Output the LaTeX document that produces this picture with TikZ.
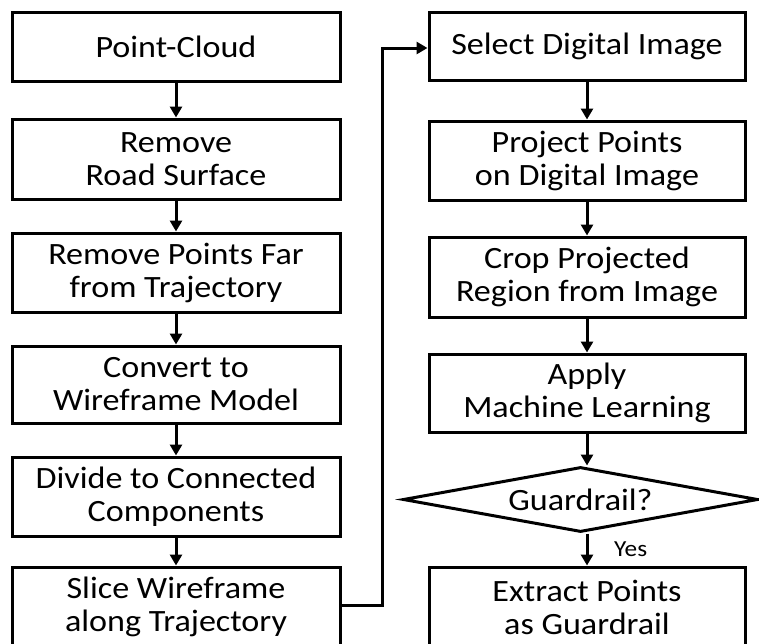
\documentclass[tikz,border=0pt]{standalone}
\usepackage{fontspec}
\setmainfont{Carlito}[FakeStretch=1.1]
\usetikzlibrary{arrows.meta,shapes.geometric}
\begin{document}
\begin{tikzpicture}[x=1pt,y=-1pt,
  stepbox/.style={draw=black,line width=3pt,rectangle,inner sep=0pt,align=center,
     font=\fontsize{31}{33}\selectfont},
  lbox/.style={stepbox,minimum width=328pt},
  rbox/.style={stepbox,minimum width=316pt},
  decide/.style={draw=black,line width=3pt,diamond,inner sep=0pt,aspect=5.4,
     minimum width=355pt,minimum height=65pt,font=\fontsize{31}{33}\selectfont},
  flow/.style={line width=3pt,-{Triangle[length=11pt,width=12pt]}}]
\useasboundingbox[fill=white] (0,0) rectangle (759,643);
% left column
\node[lbox,minimum height=69pt] (pc) at (176,46.5) {Point-Cloud};
\node[lbox,minimum height=80pt] (rr) at (176,159) {Remove\\Road Surface};
\node[lbox,minimum height=79pt] (rp) at (176,272.5) {Remove Points Far\\from Trajectory};
\node[lbox,minimum height=77pt] (cw) at (176,384.5) {Convert to\\Wireframe Model};
\node[lbox,minimum height=79pt] (dc) at (176,496.5) {Divide to Connected\\Components};
\node[lbox,minimum height=80pt] (sw) at (176,607) {Slice Wireframe\\along Trajectory};
% right column
\node[rbox,minimum height=68pt] (sd) at (587,46) {Select Digital Image};
\node[rbox,minimum height=79pt] (pp) at (587,160.5) {Project Points\\on Digital Image};
\node[rbox,minimum height=80pt] (cp) at (587,277) {Crop Projected\\Region from Image};
\node[rbox,minimum height=78pt] (am) at (587,393) {Apply\\Machine Learning};
\node[decide] (gr) at (580.5,499.5) {Guardrail?};
\node[rbox,minimum height=80pt] (ex) at (587,607) {Extract Points\\as Guardrail};
\node[anchor=west,inner sep=0pt,font=\fontsize{23}{26}\selectfont] (yes) at (614,549) {Yes};
% connectors
\draw[flow] (pc) -- (rr);
\draw[flow] (rr) -- (rp);
\draw[flow] (rp) -- (cw);
\draw[flow] (cw) -- (dc);
\draw[flow] (dc) -- (sw);
\coordinate (c1) at (382,605);
\coordinate (c2) at (382,48);
\draw[flow] (sw.east |- c1) -- (c1) -- (c2) -- (sd.west |- c2);
\draw[flow] (sd) -- (pp);
\draw[flow] (pp) -- (cp);
\draw[flow] (cp) -- (am);
\draw[flow] (am.south) -- (am.south |- gr.north);
\draw[flow] (am.south |- gr.south) -- (ex.north);
\end{tikzpicture}
\end{document}
